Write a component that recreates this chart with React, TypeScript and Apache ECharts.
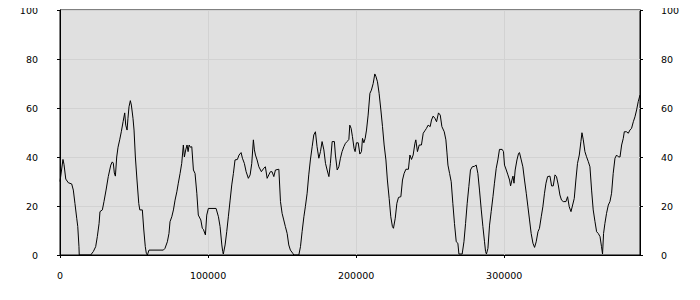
import React, { useEffect, useRef } from "react";
import * as echarts from "echarts";

const xValues: number[] = [
  0, 2000, 2700, 3900, 5600, 7900, 9000, 10100, 11300, 12000, 12800, 13000, 20700, 22500, 24100, 25200, 26400, 27000,
  28600, 29700, 31100, 32600, 34300, 35300, 36000, 36700, 37400, 38300, 39200, 40300, 41400, 42600, 43700, 44400,
  45300, 45900, 46600, 47500, 48200, 49300, 50000, 50900, 52000, 53200, 53900, 55600, 56600, 57600, 58300, 59000,
  60100, 69800, 70900, 72500, 73600, 74300, 75500, 76600, 77700, 78900, 79900, 81100, 82200, 83300, 84000, 84900,
  85800, 86500, 87200, 88000, 89000, 90100, 91200, 92400, 93400, 95100, 96100, 96800, 98200, 99100, 100200, 105400,
  107000, 108100, 109300, 109900, 110300, 111500, 112600, 113700, 114900, 116000, 117100, 118200, 119800, 120900,
  122300, 123200, 124500, 125700, 127200, 128400, 129500, 130600, 131300, 132000, 133100, 134300, 136000, 137600,
  138700, 139900, 141000, 142100, 143200, 144400, 145500, 147800, 148900, 150000, 151100, 152200, 153400, 154500,
  155600, 157200, 157900, 161300, 162400, 163500, 164700, 165700, 166900, 168000, 169100, 170300, 171400, 172500,
  173600, 174800, 175900, 177000, 178200, 179300, 180400, 181600, 182600, 183800, 185300, 186000, 187200, 188300,
  189400, 190500, 191700, 192800, 193900, 195100, 195700, 196600, 197500, 198600, 199300, 200200, 201400, 202500,
  203600, 204300, 205200, 206100, 207000, 208100, 209300, 210300, 211500, 212600, 213300, 214400, 215500, 216700,
  217800, 218900, 220100, 221100, 222300, 223400, 224500, 225200, 226400, 227500, 228600, 230200, 231300, 232400,
  233600, 235300, 236300, 237400, 238500, 239700, 240300, 241400, 242600, 244100, 245300, 246400, 247500, 248600,
  250000, 250900, 252000, 253200, 254300, 255600, 256800, 257900, 259500, 260600, 261300, 262000, 263100, 264200,
  265300, 266400, 267600, 268700, 269400, 271600, 272800, 273900, 275000, 276100, 277200, 278400, 279900, 281100,
  282200, 283300, 284500, 285600, 286700, 287400, 288000, 289000, 290100, 291200, 292400, 293400, 294600, 295700,
  296800, 298600, 299500, 300200, 301400, 302500, 303600, 304300, 305200, 305900, 306600, 307400, 308600, 309700,
  310300, 311500, 312600, 313700, 314900, 316000, 317100, 318200, 319400, 320500, 321600, 322800, 323800, 325000,
  326100, 327200, 328200, 329300, 330900, 332000, 333100, 334300, 335300, 336500, 337600, 338700, 339900, 341700,
  342800, 343900, 345100, 346200, 347300, 348400, 349500, 350700, 351800, 352500, 353400, 354500, 355600, 356800,
  357900, 359000, 360100, 361300, 362400, 363500, 364700, 365700, 366400, 367100, 368000, 369100, 370300, 371400,
  372500, 373600, 374800, 375900, 377000, 378200, 379300, 380400, 381100, 382600, 383800, 384900, 386000, 387200,
  388300, 389400, 390500, 391700,
];

const yValues: number[] = [
  30, 39, 37, 31, 29.5, 29, 26.5, 21, 15, 11.6, 3.4, 0, 0, 1.4, 3.4, 7.5, 12.9, 17.7,
  18.4, 21.8, 26.5, 32, 36.7, 38, 37.5, 33.5, 32.2, 40, 44, 47, 50.3, 54.4, 58, 53,
  51, 55.8, 60.5, 63, 61.2, 55.8, 51, 40, 30.6, 21, 18.4, 18.4, 10.2, 3.4, 0.7, 0,
  2, 2, 2.7, 5.4, 8.8, 13.6, 15.6, 18.4, 22.4, 25.8, 29.3, 33.3, 37.4, 44.9, 40, 42.9,
  44.9, 42.2, 44.9, 44, 44.2, 34.7, 33.3, 25.2, 16.3, 14.3, 10.9, 10.5, 8.2, 16.3, 19, 19,
  15.6, 11.6, 4.1, 1.4, 0.4, 4.1, 9.5, 15.6, 22.4, 28.6, 33.3, 38.8, 39, 40.8,
  41.8, 39.5, 37.4, 34, 31.3, 32.7, 37.4, 47, 42.9, 40.8, 38.8, 36, 34, 35.4,
  36, 31.3, 32.7, 34, 34, 32, 34.7, 35, 21.8, 17, 14.3, 11.6, 8.8, 4.1,
  2, 0.7, 0, 0, 3.4, 9.5, 15.6, 19.7, 25.2, 32.7, 38.8, 44.2, 49, 50.3,
  44.2, 39.5, 42.2, 46.3, 42.9, 37.4, 34.7, 32, 37.4, 46.3, 46.3, 40.8, 34.7, 36,
  39.5, 42.2, 44.2, 45.6, 46.3, 47.2, 53, 51.7, 48.3, 43.5, 42.2, 45.8, 45.8, 41.2,
  42.2, 47.6, 45.8, 47.6, 51, 57.1, 66, 67.3, 70, 73.9, 73, 70.7, 66, 59.2,
  52.4, 44.9, 38.8, 30.6, 23.1, 15.6, 11.6, 10.9, 15, 21.1, 23.5, 23.8, 30.6, 33.3,
  35, 35, 40.8, 39, 40.8, 45.6, 47, 42.2, 44.9, 44.9, 49.7, 50.7, 51.7, 53,
  52.4, 55.1, 56.7, 55.8, 54.4, 58, 57.1, 52.4, 50.3, 47, 42, 36.7, 33.3, 29.9,
  21.1, 12.9, 5.4, 4.8, 0.4, 0.4, 5.4, 12.9, 21.1, 27.9, 34.7, 36, 36.2, 36.7,
  33.3, 26.5, 18.4, 11.6, 5.4, 1.4, 0.4, 2.7, 12.2, 17.7, 23.8, 29.3, 35.4, 38.8,
  43.1, 43.1, 42.2, 36.7, 34.7, 32.7, 30.6, 28.2, 30.6, 32.2, 29.3, 34.7, 38.8, 41.5,
  41.8, 38.8, 36, 30.6, 25.2, 19.7, 14.3, 8.8, 4.8, 3.1, 5.4, 9.5, 10.9, 15.6,
  19.7, 25.2, 29.3, 32, 32.2, 28.2, 28.2, 32.7, 32, 28.6, 24.5, 22.4, 21.8, 21.8,
  23.8, 19.7, 17.7, 20.4, 23.1, 30.6, 37.4, 40.8, 46.3, 49.9, 47, 42.2, 40.1, 38.1,
  36, 26.5, 18.4, 13.6, 9.5, 8.8, 7.5, 3.4, 0.4, 8.8, 12.9, 17, 20.4, 21.8,
  25.2, 33.3, 39.5, 40.8, 40.1, 40, 44.9, 47.6, 50.3, 50.3, 49.7, 51, 51.7, 54.4,
  56.4, 59.2, 62.6, 65.3,
];

const xTickInterval = 100000;
const yTicks = [0, 20, 40, 60, 80, 100];

export default function App() {
  const ref = useRef<HTMLDivElement>(null);
  useEffect(() => {
    if (!ref.current) return;
    const chart = echarts.init(ref.current, null, { renderer: "svg" });
    const data = xValues.map((x, i) => [x, yValues[i]]);
    const labelStyle = { color: "#000", fontFamily: "DejaVu Sans", fontSize: 9.5 };
    const yAxisBase = {
      type: "value" as const,
      min: yTicks[0],
      max: yTicks[yTicks.length - 1],
      interval: 20,
      axisLine: { show: true, lineStyle: { color: "#000", width: 1 } },
      axisTick: { show: true, length: 3, lineStyle: { color: "#000" } },
      splitLine: { show: true, lineStyle: { color: "#d2d2d2", width: 1 } },
    };
    chart.setOption({
      animation: false,
      grid: {
        left: 60,
        right: 60,
        top: 10,
        bottom: 45,
        show: true,
        backgroundColor: "#e0e0e0",
        borderColor: "#000",
        borderWidth: 1,
      },
      xAxis: {
        type: "value",
        min: 0,
        max: xValues[xValues.length - 1],
        interval: xTickInterval,
        axisLine: { show: true, lineStyle: { color: "#000", width: 1 } },
        axisTick: { show: true, length: 3, lineStyle: { color: "#000" } },
        axisLabel: {
          ...labelStyle,
          margin: 15,
          showMaxLabel: false,
          formatter: (v: number) => String(v),
        },
        splitLine: { show: true, lineStyle: { color: "#d2d2d2", width: 1 } },
      },
      yAxis: [
        { ...yAxisBase, position: "left", axisLabel: { ...labelStyle, margin: 22 } },
        { ...yAxisBase, position: "right", axisLabel: { ...labelStyle, margin: 21 } },
      ],
      series: [
        {
          type: "line",
          data,
          yAxisIndex: 0,
          showSymbol: false,
          symbol: "none",
          lineStyle: { color: "#000", width: 1 },
        },
      ],
    });
    return () => chart.dispose();
  }, []);
  return <div ref={ref} style={{ width: 700, height: 300, margin: -8 }} />;
}
